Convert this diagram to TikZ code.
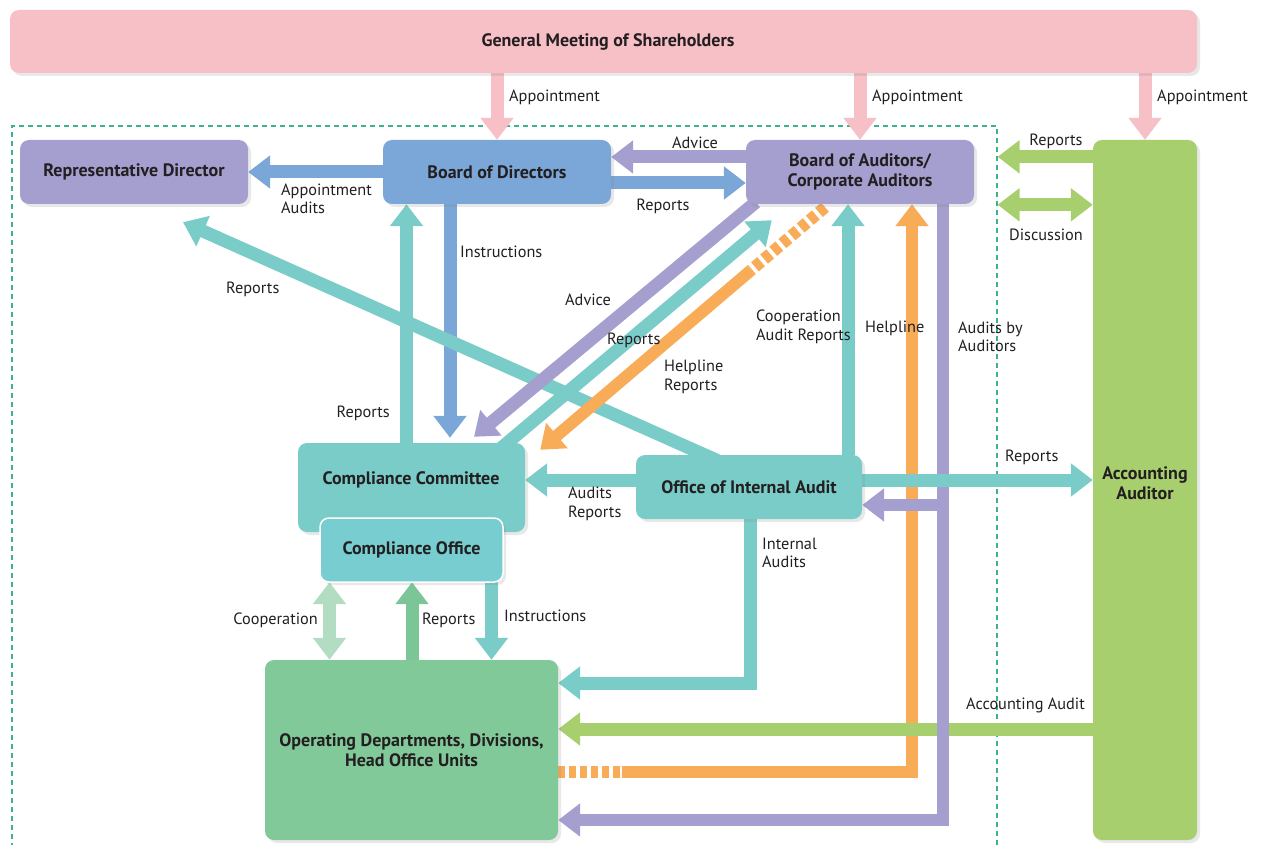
\documentclass[tikz,border=0pt]{standalone}
\usepackage{fontspec}
\setmainfont{PT Sans}
\usetikzlibrary{arrows.meta,calc,shadows}
\definecolor{cpink}{HTML}{F7BFC6}
\definecolor{cpurple}{HTML}{A59FD0}
\definecolor{cblue}{HTML}{7BA7D8}
\definecolor{cteal}{HTML}{7ACCC8}
\definecolor{cteal2}{HTML}{77CDD0}
\definecolor{corange}{HTML}{F9AC58}
\definecolor{cgreen}{HTML}{A8CF6E}
\definecolor{copgreen}{HTML}{82C99A}
\definecolor{crepgreen}{HTML}{7CC597}
\definecolor{ccoop}{HTML}{B3DDC3}
\definecolor{cframe}{HTML}{3DB28E}
\definecolor{ctext}{HTML}{231F20}
\newcommand\bxfont{\fontsize{18}{20}\selectfont\bfseries}
\newcommand\lbfont{\fontsize{16.3}{18.5}\selectfont}
\tikzset{
 box/.style={rounded corners=9pt, inner sep=0pt, align=center, text=ctext, font=\bxfont,
   drop shadow={shadow xshift=3pt, shadow yshift=-3pt, opacity=0.18}},
 lbl/.style={font=\lbfont, text=ctext, inner sep=0pt, align=left},
 arr/.style={line width=13pt, line join=miter, -{Triangle[length=22pt,width=32pt]}},
 darr/.style={line width=13pt, {Triangle[length=22pt,width=32pt]}-{Triangle[length=22pt,width=32pt]}},
}
\begin{document}
\begin{tikzpicture}[x=1pt,y=-1pt]
\useasboundingbox (0,0) rectangle (1263,845);
% frame
\node[draw=cframe, dashed, dash pattern=on 5pt off 4pt, line width=1.2pt, minimum width=985pt, minimum height=724pt, inner sep=0pt] (frame) at (504.5,488) {};

% box geometry
\path
 node[minimum width=1187pt, minimum height=63pt] (gms) at (603.5,41.5) {}
 node[minimum width=228pt, minimum height=64pt] (rep) at (134,172) {}
 node[minimum width=228pt, minimum height=64pt] (bod) at (497,172) {}
 node[minimum width=228pt, minimum height=64pt] (boa) at (860,172) {}
 node[minimum width=104pt, minimum height=700pt] (acc) at (1145,490) {}
 node[minimum width=227pt, minimum height=89pt] (cc) at (411.5,487.5) {}
 node[minimum width=183pt, minimum height=64pt] (co) at (411.5,550) {}
 node[minimum width=226pt, minimum height=64pt] (oia) at (749,487) {}
 node[minimum width=293pt, minimum height=180pt] (op) at (411.5,750) {};

% appointment arrows
\draw[arr, cpink] ([yshift=5]gms.south -| bod.north) -- (bod.north);
\draw[arr, cpink] ([yshift=5]gms.south -| boa.north) -- (boa.north);
\draw[arr, cpink] ([yshift=5]gms.south -| acc.north) -- (acc.north);

% top horizontal arrows
\draw[arr, cblue] (bod.west) -- (rep.east);
\draw[arr, cpurple] ([yshift=15]boa.west) -- ([yshift=15]bod.east);
\draw[arr, cblue] ([yshift=-11]bod.east) -- ([yshift=-11]boa.west);
\coordinate (r1) at ([yshift=-17]acc.north west);
\draw[arr, cgreen] (r1) -- (r1 -| frame.east);
\coordinate (d1) at ([yshift=-65]acc.north west);
\draw[darr, cgreen] (d1 -| frame.east) -- (d1);

% bod <-> cc
\draw[arr, cblue] ([xshift=-47]bod.south) -- ([xshift=-47,yshift=5]bod.south |- cc.north);
\draw[arr, cteal] ([xshift=-5]cc.north) -- ([xshift=-5]cc.north |- bod.south);

% long diagonal Reports to Representative Director
\draw[arr, cteal] ([xshift=-31,yshift=-6]oia.north) -- ([xshift=49,yshift=-18]rep.south);

% diagonals between boa and cc
\draw[arr, cpurple] ([xshift=10,yshift=2]boa.south west) -- ([xshift=62.5,yshift=6]cc.north);
\draw[arr, cteal] ([xshift=-25,yshift=-6]cc.north east) -- ([xshift=26,yshift=-16]boa.south west);
\coordinate (hs) at ([xshift=-35,yshift=-3]boa.south);
\coordinate (he) at ([xshift=15,yshift=-7]cc.north east);
\draw[line width=12pt, corange, dash pattern=on 8pt off 4pt] (hs) -- ($(hs)!0.26!(he)$);
\draw[arr, corange, line width=12pt] ($(hs)!0.26!(he)$) -- (he);

% verticals to boa
\draw[arr, cteal] ([xshift=99]oia.north) -- ([xshift=99]oia.north |- boa.south);
\coordinate (h0) at ([yshift=-22]op.east);
\coordinate (h1) at ([xshift=64]h0);
\coordinate (h2) at ([xshift=52]boa.south);
\draw[line width=12pt, corange, dash pattern=on 7pt off 4pt] (h0) -- (h1);
\draw[arr, corange, line width=12pt] (h1) -- (h1 -| h2) -- (h2);

% green accounting audit
\coordinate (ae) at ([yshift=21]op.east);
\draw[arr, cgreen] (ae -| acc.west) -- (ae);

% audits by auditors
\coordinate (a0) at ([xshift=83]boa.south);
\coordinate (aE) at ([yshift=-70]op.east);
\draw[arr, cpurple, line width=12pt] (a0) -- (a0 |- aE) -- (aE);
\draw[arr, cpurple, line width=12pt] ([yshift=-18]oia.east -| a0) -- ([yshift=-18]oia.east);

% oia horizontals
\draw[arr, cteal] ([yshift=7]oia.east) -- ([yshift=7]oia.east -| acc.west);
\draw[arr, cteal] ([yshift=7]oia.west) -- ([yshift=7]oia.west -| cc.east);

% internal audits
\coordinate (ie) at ([yshift=67]op.east);
\draw[arr, cteal] ([xshift=1]oia.south) -- ([xshift=1]oia.south |- ie) -- (ie);

% compliance office <-> operating
\draw[darr, ccoop] ([xshift=-82]co.south) -- ([xshift=-82]co.south |- op.north);
\draw[arr, crepgreen] ([xshift=0.5]op.north) -- ([xshift=0.5]op.north |- co.south);
\draw[arr, cteal] ([xshift=80]co.south) -- ([xshift=80]co.south |- op.north);

% visible boxes
\node[box, fill=cpink, minimum width=1187pt, minimum height=63pt] (gmsb) at (gms) {};
\node[font=\bxfont, text=ctext, inner sep=0pt] (gmslbl) at (608,42) {General Meeting of Shareholders};
\node[box, fill=cpurple, minimum width=228pt, minimum height=64pt] (repb) at (rep) {Representative Director};
\node[box, fill=cblue, minimum width=228pt, minimum height=64pt] (bodb) at (bod) {Board of Directors};
\node[box, fill=cpurple, minimum width=228pt, minimum height=64pt] (boab) at (boa) {Board of Auditors/\\Corporate Auditors};
\node[box, fill=cgreen, minimum width=104pt, minimum height=700pt] (accb) at (acc) {};
\node[font=\bxfont, text=ctext, inner sep=0pt, align=center] (acclbl) at (1145,483) {Accounting\\Auditor};
\node[box, fill=cteal, minimum width=227pt, minimum height=89pt] (ccb) at (cc) {};
\node[font=\bxfont, text=ctext, inner sep=0pt] (cclbl) at (411,480) {Compliance Committee};
\node[box, fill=cteal2, draw=white, line width=1.5pt, minimum width=183pt, minimum height=64pt] (cob) at (co) {Compliance Office};
\node[box, fill=cteal, minimum width=226pt, minimum height=64pt] (oiab) at (oia) {Office of Internal Audit};
\node[box, fill=copgreen, minimum width=293pt, minimum height=180pt] (opb) at (op) {Operating Departments, Divisions,\\Head Office Units};

% labels
\node[lbl, anchor=west] (l1) at (509,97) {Appointment};
\node[lbl, anchor=west] (l2) at (872,97) {Appointment};
\node[lbl, anchor=west] (l3) at (1157,97) {Appointment};
\node[lbl, anchor=west] (l4) at (281,199) {Appointment\\Audits};
\node[lbl] (l5) at (695,143) {Advice};
\node[lbl] (l6) at (663,206) {Reports};
\node[lbl] (l7) at (1056,141) {Reports};
\node[lbl] (l8) at (1046,235) {Discussion};
\node[lbl, anchor=west] (l9) at (460,252) {Instructions};
\node[lbl, anchor=east] (l10) at (390,413) {Reports};
\node[lbl, anchor=west] (l11) at (226,289) {Reports};
\node[lbl, anchor=west] (l12) at (565,300) {Advice};
\node[lbl, anchor=west] (l13) at (607,340) {Reports};
\node[lbl, anchor=west] (l14) at (664,377) {Helpline\\Reports};
\node[lbl, anchor=west] (l15) at (756,327) {Cooperation\\Audit Reports};
\node[lbl, anchor=west] (l16) at (865,328) {Helpline};
\node[lbl, anchor=west] (l17) at (958,337) {Audits by\\Auditors};
\node[lbl, anchor=west] (l18) at (1005,457) {Reports};
\node[lbl, anchor=west] (l19) at (568,504) {Audits\\Reports};
\node[lbl, anchor=west] (l20) at (762,553) {Internal\\Audits};
\node[lbl, anchor=west] (l21) at (966,705) {Accounting Audit};
\node[lbl, anchor=east] (l22) at (318,620) {Cooperation};
\node[lbl, anchor=west] (l23) at (422,620) {Reports};
\node[lbl, anchor=west] (l24) at (504,616) {Instructions};
\end{tikzpicture}
\end{document}
